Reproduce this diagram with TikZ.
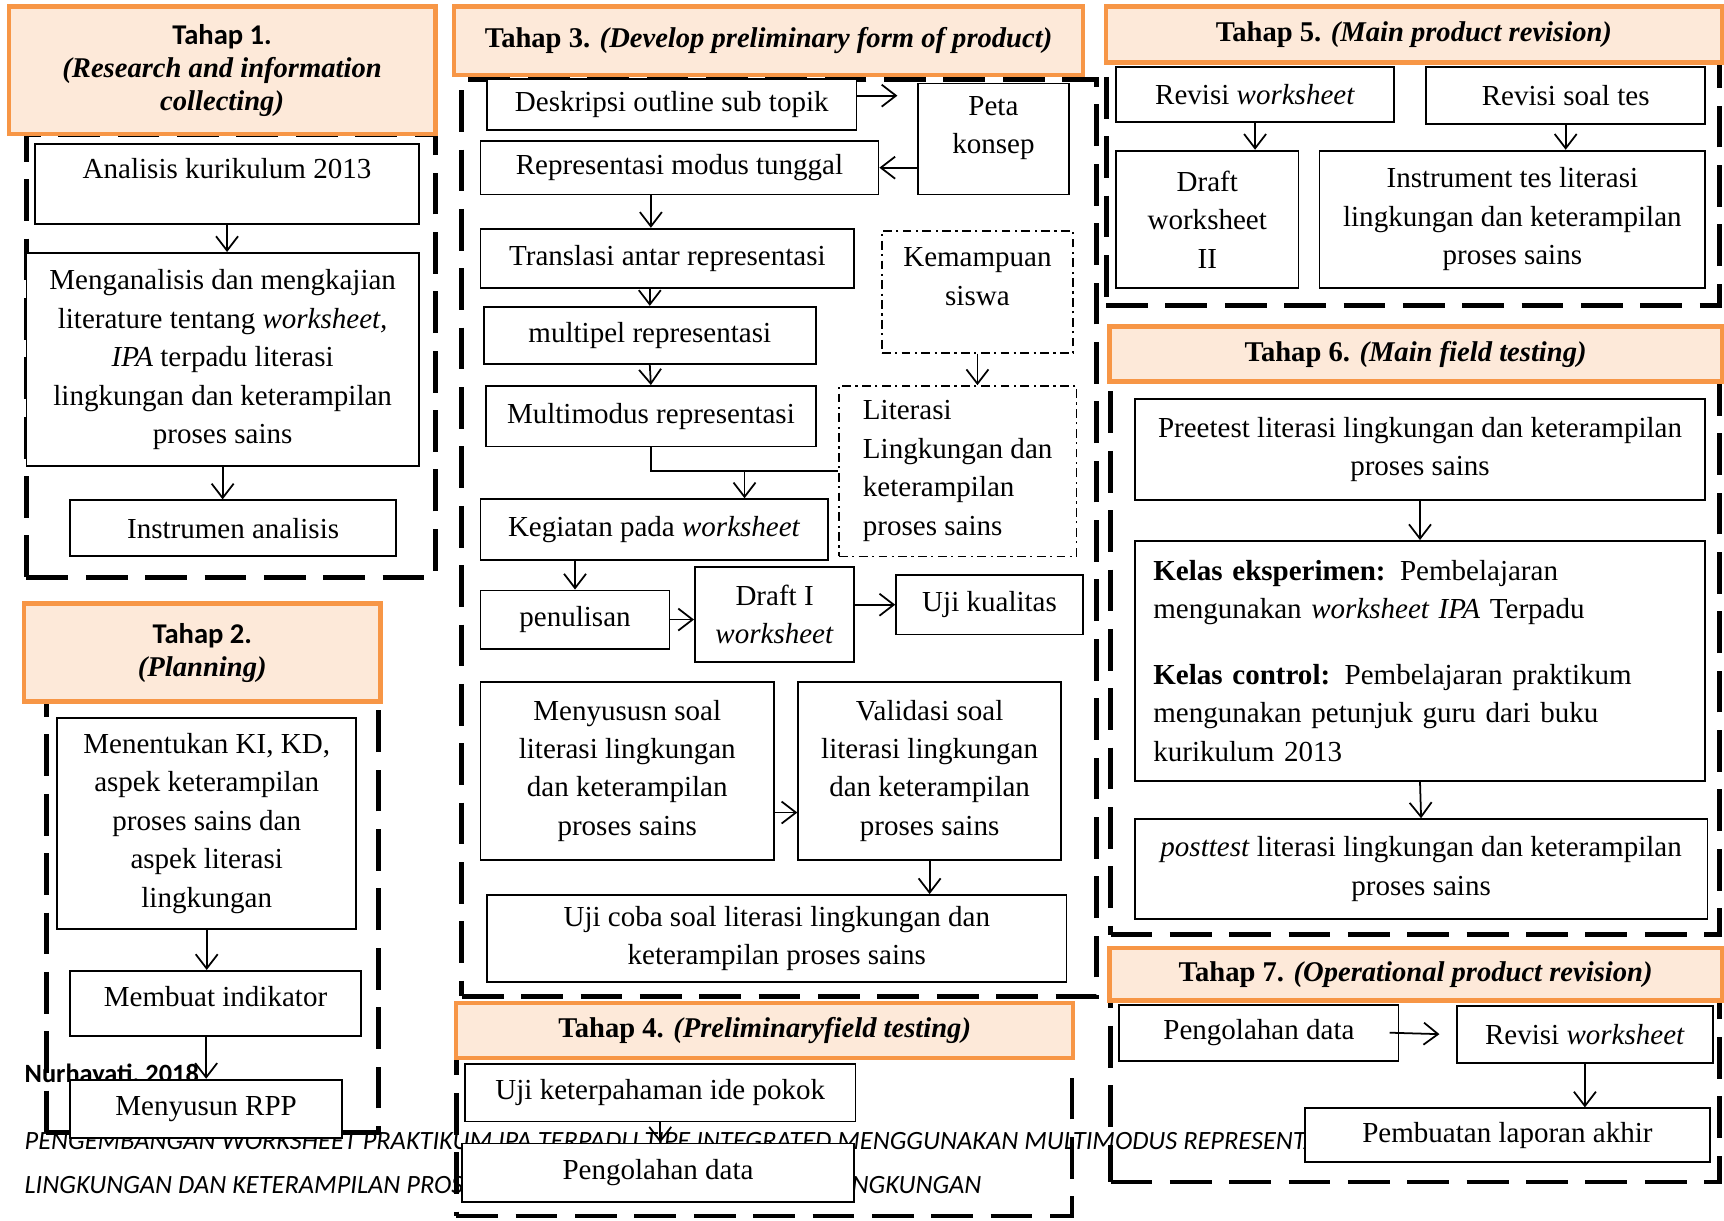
\documentclass[tikz,border=0pt]{standalone}
\usepackage{fontspec}
\setmainfont{Liberation Serif}
\newfontfamily\calibri{Carlito}
\usetikzlibrary{fit}
\usetikzlibrary{calc}
\usetikzlibrary{arrows.meta}
\definecolor{stageline}{HTML}{F79646}
\definecolor{stagefill}{HTML}{FDE9D9}
\tikzset{box/.style={rectangle, draw, line width=0.8pt, fill=white, inner sep=0pt}}
\tikzset{dbox/.style={box, line width=0.7pt, dash pattern=on 4pt off 2pt on 1pt off 2pt}}
\tikzset{txt/.style={align=center, inner sep=0pt, font=\fontsize{13.2}{17.5}\selectfont}}
\tikzset{stage/.style={rectangle, draw=stageline, line width=2pt, fill=stagefill, inner sep=0pt}}
\tikzset{stagetxt/.style={align=center, inner sep=0pt, font=\fontsize{13}{15}\selectfont\bfseries}}
\tikzset{frame/.style={rectangle, draw, line width=2.2pt, dash pattern=on 19pt off 8pt, inner sep=0pt}}
\tikzset{arr/.style={-{Straight Barb[length=6.5pt,width=10pt]}, line width=0.8pt}}
\tikzset{footer/.style={anchor=west, inner sep=0pt, font=\calibri\itshape\fontsize{12}{14}\selectfont}}

\begin{document}
\begin{tikzpicture}[x=0.5pt, y=-0.5pt]

    \useasboundingbox (0,0) rectangle (1568,1110);

    % text of the page behind the chart
    \node[footer, font=\calibri\bfseries\fontsize{12}{14}\selectfont] (author) at (22,978) {Nurhayati, 2018};
    \node[footer] (title1) at (22,1038) {PENGEMBANGAN WORKSHEET PRAKTIKUM IPA TERPADU TIPE INTEGRATED MENGGUNAKAN MULTIMODUS REPRESENTASI};
    \node[footer] (title2) at (22,1078) {LINGKUNGAN DAN KETERAMPILAN PROS};
    \node[footer, anchor=east] (title3) at (893,1078) {INGKUNGAN};

    \node[frame, fit={(24,122)(396,525)}] (f1) {};
    \node[frame, fit={(42,638)(344,1030)}] (f2) {};
    \node[frame, fit={(420,72)(997,906)}] (f3) {};
    \node[frame, fit={(415,962)(975,1106)}] (f4) {};
    \node[frame, fit={(1006,57)(1564,278)}] (f5) {};
    \node[frame, fit={(1010,347)(1564,850)}] (f6) {};
    \node[frame, fit={(1010,910)(1564,1075)}] (f7) {};

    \node[stage, fit={(8,6)(396,122)}, label={[stagetxt]center:{\calibri Tahap 1.}\\\textit{(Research and information}\\\textit{collecting)}}] (s1) {};
    \node[stage, fit={(22,549)(346,638)}, label={[stagetxt]center:{\calibri Tahap 2.}\\\textit{(Planning)}}] (s2) {};
    \node[stage, fit={(413,6)(985,68)}, label={[stagetxt]center:Tahap 3. \textit{(Develop preliminary form of product)}}] (s3) {};
    \node[stage, fit={(415,912)(976,962)}, label={[stagetxt]center:Tahap 4. \textit{(Preliminaryfield testing)}}] (s4) {};
    \node[stage, fit={(1006,6)(1566,57)}, label={[stagetxt]center:Tahap 5. \textit{(Main product revision)}}] (s5) {};
    \node[stage, fit={(1009,297)(1566,347)}, label={[stagetxt]center:Tahap 6. \textit{(Main field testing)}}] (s6) {};
    \node[stage, fit={(1009,862)(1566,910)}, label={[stagetxt]center:Tahap 7. \textit{(Operational product revision)}}] (s7) {};

    % Tahap 1
    \node[box, fit={(32,131)(381,204)}, label={[txt, yshift=7pt]center:Analisis kurikulum 2013}] (ana) {};
    \node[box, fit={(24,230)(381,424)}, label={[txt]center:Menganalisis dan mengkajian\\literature tentang \textit{worksheet,}\\\textit{IPA} terpadu literasi\\lingkungan dan keterampilan\\proses sains}] (meng) {};
    \node[box, fit={(64,455)(360,506)}, label={[txt]center:Instrumen analisis}] (instr) {};

    % Tahap 2
    \node[box, fit={(52,653)(324,845)}, label={[txt]center:Menentukan KI, KD,\\aspek keterampilan\\proses sains dan\\aspek literasi\\lingkungan}] (ment) {};
    \node[box, fit={(64,883)(328,942)}, label={[txt, yshift=3pt]center:Membuat indikator}] (memb) {};
    \node[box, fit={(64,982)(311,1035)}, label={[txt]center:Menyusun RPP}] (rpp) {};

    % Tahap 3
    \node[box, fit={(443,72)(779,118)}, label={[txt]center:Deskripsi outline sub topik}] (desk) {};
    \node[box, fit={(835,76)(972,177)}, label={[txt, yshift=5pt]center:Peta\\konsep}] (peta) {};
    \node[box, fit={(437,128)(799,177)}, label={[txt]center:Representasi modus tunggal}] (rep) {};
    \node[box, fit={(437,208)(777,262)}, label={[txt]center:Translasi antar representasi}] (trans) {};
    \node[box, fit={(440,279)(742,331)}, label={[txt]center:multipel representasi}] (mult) {};
    \node[box, fit={(442,351)(742,406)}, label={[txt]center:Multimodus representasi}] (mm) {};
    \node[dbox, fit={(802,210)(976,321)}, label={[txt, yshift=7pt]center:Kemampuan\\siswa}] (kem) {};
    \node[dbox, fit={(763,351)(979,506)}, label={[txt, align=left]center:Literasi\\Lingkungan dan\\keterampilan\\proses sains}] (lit) {};
    \node[box, fit={(437,454)(753,509)}, label={[txt]center:Kegiatan pada \textit{worksheet}}] (keg) {};
    \node[box, fit={(437,537)(609,590)}, label={[txt]center:penulisan}] (pen) {};
    \node[box, fit={(632,516)(777,602)}, label={[txt]center:Draft I\\\textit{worksheet}}] (draft1) {};
    \node[box, fit={(815,523)(985,577)}, label={[txt]center:Uji kualitas}] (uji) {};
    \node[box, fit={(437,620)(704,782)}, label={[txt]center:Menyususn soal\\literasi lingkungan\\dan keterampilan\\proses sains}] (menyu) {};
    \node[box, fit={(726,620)(965,782)}, label={[txt]center:Validasi soal\\literasi lingkungan\\dan keterampilan\\proses sains}] (valid) {};
    \node[box, fit={(443,814)(970,893)}, label={[txt]center:Uji coba soal literasi lingkungan dan\\keterampilan proses sains}] (ujicoba) {};

    % Tahap 4
    \node[box, fit={(423,968)(778,1020)}, label={[txt]center:Uji keterpahaman ide pokok}] (ujip) {};
    \node[box, fit={(420,1040)(777,1093)}, label={[txt]center:Pengolahan data}] (peng4) {};

    % Tahap 5
    \node[box, fit={(1015,61)(1268,111)}, label={[txt]center:Revisi \textit{worksheet}}] (revw) {};
    \node[box, fit={(1297,61)(1551,113)}, label={[txt]center:Revisi soal tes}] (revs) {};
    \node[box, fit={(1015,137)(1181,262)}, label={[txt]center:Draft\\worksheet\\II}] (draft2) {};
    \node[box, fit={(1200,137)(1551,262)}, label={[txt]center:Instrument tes literasi\\lingkungan dan keterampilan\\proses sains}] (instt) {};

    % Tahap 6
    \node[box, fit={(1032,363)(1551,455)}, label={[txt]center:Preetest literasi lingkungan dan keterampilan\\proses sains}] (pre) {};
    \node[box, fit={(1032,492)(1551,710)}, label={[txt, text width=242.5pt, align=left]center:\textbf{Kelas eksperimen:} Pembelajaran\\mengunakan \textit{worksheet IPA} Terpadu\\[12.5pt]\textbf{Kelas control:} Pembelajaran praktikum\\mengunakan petunjuk guru dari buku\\kurikulum 2013}] (kelas) {};
    \node[box, fit={(1032,745)(1553,836)}, label={[txt]center:\textit{posttest} literasi lingkungan dan keterampilan\\proses sains}] (post) {};

    % Tahap 7
    \node[box, fit={(1018,914)(1272,965)}, label={[txt]center:Pengolahan data}] (peng7) {};
    \node[box, fit={(1325,915)(1558,967)}, label={[txt]center:Revisi \textit{worksheet}}] (rev7) {};
    \node[box, fit={(1187,1008)(1555,1057)}, label={[txt]center:Pembuatan laporan akhir}] (lap) {};

    \draw[arr] (ana.south) -- (ana.south |- meng.north);
    \draw[arr] (meng.south) -- (meng.south |- instr.north);
    \draw[arr] (ment.south) -- (ment.south |- memb.north);
    \draw[arr] (rpp.north |- memb.south) -- (rpp.north);

    \draw[arr, shorten >=9pt] ([yshift=4pt]desk.east) -- ([yshift=4pt]desk.east -| peta.west);
    \draw[arr] (rep.east -| peta.west) -- (rep.east);
    \draw[arr] (mm.north |- rep.south) -- (mm.north |- trans.north);
    \draw[arr] (mult.north |- trans.south) -- (mult.north);
    \draw[arr] (mult.south) -- (mm.north);
    \draw[line width=0.8pt] (mm.south) |- (lit.west);
    \coordinate (jn) at ($(mm.south |- lit.west)!0.5!(lit.west)$);
    \draw[arr] (jn) -- (jn |- keg.north);
    \draw[arr] (kem.south) -- (kem.south |- lit.north);
    \draw[arr] (pen.north |- keg.south) -- (pen.north);
    \draw[arr] (pen.east) -- (draft1.west |- pen.east);
    \draw[arr] (draft1.east |- uji.west) -- (uji.west);
    \draw[arr] ([yshift=-19pt]menyu.east) -- ([yshift=-19pt]valid.west);
    \draw[arr] (valid.south) -- (valid.south |- ujicoba.north);

    \draw[arr] (ujip.south) -- (ujip.south |- peng4.north);

    \draw[arr] (revw.south) -- (revw.south |- draft2.north);
    \draw[arr] (revs.south) -- (revs.south |- instt.north);

    \draw[arr] (pre.south) -- (kelas.north);
    \draw[arr] (kelas.south) -- (post.north);

    \draw[arr, shorten <=-4.5pt, shorten >=7.5pt] (peng7.east) -- (rev7.west);
    \draw[arr] (rev7.south) -- (rev7.south |- lap.north);

  \end{tikzpicture}
\end{document}
